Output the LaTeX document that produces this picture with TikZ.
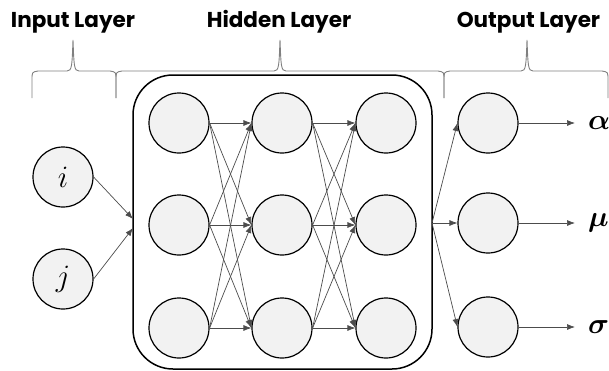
\documentclass[tikz,border=0pt]{standalone}
\usepackage{amsmath, bm}
\usepackage{graphicx}
\usepackage{fontspec}
\newfontfamily\layerfont{Poppins}
\usepackage{tikz}
\usetikzlibrary{positioning, arrows.meta}
\definecolor{cellgray}{rgb}{0.95,0.95,0.95}
\definecolor{wiregray}{rgb}{0.30,0.30,0.30}
\definecolor{bracegray}{rgb}{0.50,0.50,0.50}
\tikzstyle{neuron}=[%
      circle, draw=black, line width=1.2pt, fill=cellgray,
      minimum size=60pt, inner sep=0pt, font=\fontsize{20}{24}\selectfont
]
\tikzstyle{title}=[%
      anchor=base, inner sep=0pt, font=\layerfont\bfseries\fontsize{21.5}{24}\selectfont
]
\tikzstyle{outlbl}=[%
      anchor=west, inner xsep=13pt, inner ysep=0pt, font=\fontsize{20}{24}\selectfont
]
\tikzstyle{conn}=[%
      ->, draw=wiregray, line width=0.7pt
]
\tikzstyle{bracel}=[%
      draw=bracegray, line width=0.9pt
]
\newcommand{\layerbrace}[3]{%
  \draw[bracel] (#1,-98) -- (#1,-80) .. controls (#1,-72) .. (#1+6,-71) -- (#2-6,-71)
    .. controls (#2-1,-71) and (#2-1,-66) .. (#2,-40)
    .. controls (#2+1,-66) and (#2+1,-71) .. (#2+6,-71) -- (#3-6,-71)
    .. controls (#3,-72) .. (#3,-80) -- (#3,-98);
}

\begin{document}
\begin{tikzpicture}[auto,
    x=1pt, y=1pt,
    >={Latex[length=8pt,width=6pt]},
]
    \useasboundingbox (0,0) rectangle (609,-370);

    % titles and braces
    \node[title] (tin)  at (73,-27)    {Input Layer};
    \node[title] (thid) at (279,-27)   {Hidden Layer};
    \node[title] (tout) at (528.5,-27) {Output Layer};
    \layerbrace{32}{73}{116}
    \layerbrace{116}{280}{444}
    \layerbrace{444}{527}{608}

    % hidden block
    \node[draw=black, line width=1.5pt, rounded corners=40pt, minimum width=299pt,
          minimum height=294pt, inner sep=0pt] (box) at (282.5,-222) {};
    \coordinate (in1) at (133,-219);
    \coordinate (in2) at (133,-228);
    \coordinate (out) at (432,-223);

    % neurons
    \node[neuron] (i) at (63,-177) {\scalebox{1.5}{$i$}};
    \node[neuron] (j) at (63,-279) {\scalebox{1.5}{$j$}};
    \foreach \c/\x in {1/179, 2/282, 3/386}
      \foreach \r/\y in {1/123, 2/225, 3/328}
        \node[neuron] (h\c\r) at (\x,-\y) {};
    \node[neuron] (o1) at (488,-123) {};
    \node[neuron] (o2) at (488,-223) {};
    \node[neuron] (o3) at (488,-327) {};

    \node[outlbl] (alpha) at (575,-123) {\scalebox{1.4}{$\bm{\alpha}$}};
    \node[outlbl] (mu)    at (575,-223) {\scalebox{1.4}{$\bm{\mu}$}};
    \node[outlbl] (sigma) at (575,-327) {\scalebox{1.4}{$\bm{\sigma}$}};

    % connections
    \draw[conn] (i.east) -- (in1);
    \draw[conn] (j.east) -- (in2);
    \foreach \a in {1,2,3}
      \foreach \b in {1,2,3} {
        \draw[conn] (h1\a.east) -- (h2\b.west);
        \draw[conn] (h2\a.east) -- (h3\b.west);
      }
    \foreach \k in {1,2,3}
      \draw[conn] (out) -- (o\k.west);
    \draw[conn] (o1.east) -- (alpha.west);
    \draw[conn] (o2.east) -- (mu.west);
    \draw[conn] (o3.east) -- (sigma.west);
\end{tikzpicture}
\end{document}
